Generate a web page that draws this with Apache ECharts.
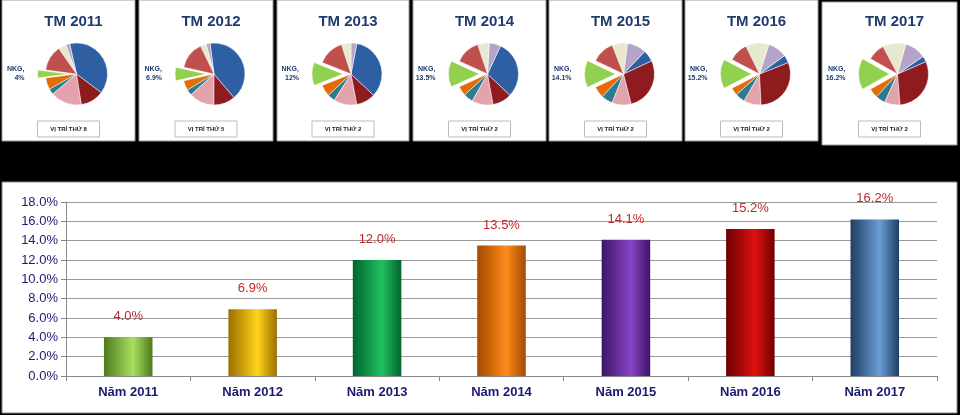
<!DOCTYPE html>
<html><head><meta charset="utf-8">
<script src="https://cdn.jsdelivr.net/npm/echarts@6/dist/echarts.min.js"></script>
<style>html,body{margin:0;background:#000}#c{width:960px;height:415px}</style>
</head><body><div id="c"></div>
<script>
const years = ['2011', '2012', '2013', '2014', '2015', '2016', '2017'];
const categories = ['Năm 2011', 'Năm 2012', 'Năm 2013', 'Năm 2014', 'Năm 2015', 'Năm 2016', 'Năm 2017'];
const nkgShare = [4.0, 6.9, 12.0, 13.5, 14.1, 15.2, 16.2];
const rankLabels = ['VỊ TRÍ THỨ 8', 'VỊ TRÍ THỨ 5', 'VỊ TRÍ THỨ 2', 'VỊ TRÍ THỨ 2', 'VỊ TRÍ THỨ 2', 'VỊ TRÍ THỨ 2', 'VỊ TRÍ THỨ 2'];
// other companies' shares (rough read), going counter-clockwise from the NKG slice
const otherShares = [
  [6, 3, 16, 12, 38, 2, 4, 13],
  [5, 3, 13, 11, 40, 2, 3, 14],
  [6, 4, 12, 10, 34, 3, 5, 14],
  [5, 5, 11, 10, 30, 6, 6, 13],
  [6, 6, 10, 28, 6, 10, 8, 12],
  [4, 5, 9, 30, 4, 10, 12, 10],
  [5, 5, 8, 30, 3, 11, 12, 9]
];
const sliceColors = ['#E36C09', '#2B7C8F', '#E3A3AC', '#8E1C1E', '#2E5FA3', '#B6A3C9', '#E6E8CF', '#C0504D'];
const barColors = [['#4E7A1E', '#A8E060'], ['#9A7000', '#FFD21A'], ['#00642E', '#22C060'], ['#A34A00', '#FF8A1A'],
  ['#3D1466', '#8A44C8'], ['#6E0000', '#E01010'], ['#1F3E63', '#6A9CD6']];

const panels = [[2, 135], [139, 273], [277, 409], [413, 546], [549, 682], [685, 818], [822, 957]];

const chart = echarts.init(document.getElementById('c'));
const graphics = [];
const series = [];
const titles = [];
panels.forEach((p, i) => {
  const w = p[1] - p[0];
  const bottom = i === 6 ? 143 : 141;
  graphics.push({ type: 'rect', shape: { x: p[0], y: i === 6 ? 2 : 0, width: w, height: bottom }, style: { fill: '#fff', stroke: '#999' }, z: 0 });
  graphics.push({ type: 'rect', shape: { x: p[0] + w / 2 - 31, y: 121, width: 62, height: 16 }, style: { fill: '#fff', stroke: '#bbb' }, z: 1 });
  graphics.push({ type: 'text', x: p[0] + w / 2, y: 129, style: { text: rankLabels[i], fill: '#222', font: 'bold 6px Arial', align: 'center', verticalAlign: 'middle' }, z: 2 });
  titles.push({ text: 'TM ' + years[i], left: p[0] + w / 2, top: 9, textAlign: 'center',
    textStyle: { color: '#1F3C6E', fontSize: 15, fontWeight: 'bold', fontFamily: 'Arial' } });
  const data = [{ value: nkgShare[i], name: 'NKG', selected: true, itemStyle: { color: '#92D050' },
    label: { show: true } }];
  otherShares[i].forEach((v, k) => data.push({ value: v, name: 'o' + k, itemStyle: { color: sliceColors[k] } }));
  const total = data.reduce((s, d) => s + d.value, 0);
  const deg = nkgShare[i] / total * 360;
  series.push({
    type: 'pie', radius: [0, 31], center: [p[0] + w / 2 + 8, 74], startAngle: 180 - deg / 2, clockwise: false,
    selectedMode: 'single', selectedOffset: 8, silent: true, animation: false,
    data: data,
    label: { show: false, position: 'outside', formatter: (d) => 'NKG,\n' + (i === 0 ? '4' : d.value) + '%',
      color: '#1F3C6E', fontSize: 7, fontWeight: 'bold', fontFamily: 'Arial', lineHeight: 9 },
    labelLine: { length: 4, length2: 4, lineStyle: { color: '#333' } },
    itemStyle: { borderColor: '#fff', borderWidth: 0.5 }
  });
});
graphics.push({ type: 'rect', shape: { x: 2, y: 182, width: 955, height: 231 }, style: { fill: '#fff', stroke: '#888' }, z: 0 });

series.push({
  type: 'bar', barWidth: '39%', data: nkgShare.map((v, i) => ({ value: v, itemStyle: {
    color: new echarts.graphic.LinearGradient(0, 0, 1, 0, [
      { offset: 0, color: barColors[i][0] }, { offset: 0.6, color: barColors[i][1] }, { offset: 1, color: barColors[i][0] }]) } })),
  label: { show: true, position: 'top', distance: 14, formatter: (d) => d.value.toFixed(1) + '%',
    color: '#C0282A', fontSize: 13, fontFamily: 'Arial' },
  z: 3
});

chart.setOption({
  backgroundColor: '#000',
  animation: false,
  title: titles,
  graphic: graphics,
  grid: { left: 66, right: 23, top: 202, bottom: 39 },
  xAxis: { type: 'category', data: categories,
    axisLine: { lineStyle: { color: '#888' } }, axisTick: { show: true, lineStyle: { color: '#888' } },
    axisLabel: { color: '#1A1A70', fontSize: 13, fontWeight: 'bold', fontFamily: 'Arial', margin: 10 } },
  yAxis: { type: 'value', min: 0, max: 18, interval: 2,
    axisLine: { show: true, lineStyle: { color: '#888' } }, axisTick: { show: true, lineStyle: { color: '#888' } },
    splitLine: { lineStyle: { color: '#999' } },
    axisLabel: { color: '#1A1A70', fontSize: 13, fontFamily: 'Arial', formatter: (v) => v.toFixed(1) + '%' } },
  series: series
});
</script></body></html>
